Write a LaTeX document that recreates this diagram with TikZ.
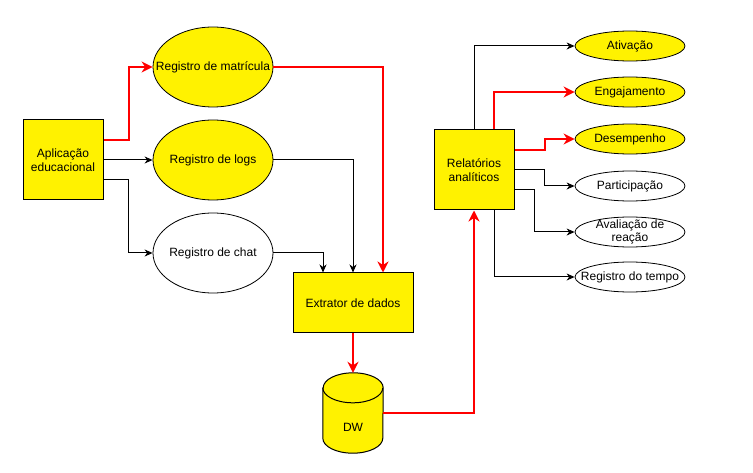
\documentclass[tikz,border=0pt]{standalone}
\usepackage{fontspec}
\setmainfont{Liberation Sans}
\usetikzlibrary{arrows.meta,shapes.geometric}

\begin{document}
\begin{tikzpicture}[x=1pt,y=-1pt,
  font=\fontsize{12}{13.5}\selectfont,
  caixa/.style={draw,fill=yellow,line width=1pt,minimum width=80pt,minimum height=80pt,align=center,inner sep=1pt},
  registro/.style={draw,ellipse,line width=0.8pt,minimum width=120pt,minimum height=80pt,inner xsep=-25pt,inner ysep=-8pt,align=center},
  metrica/.style={draw,ellipse,line width=0.8pt,minimum width=110pt,minimum height=30pt,inner xsep=-25pt,inner ysep=-8pt,align=center},
  amarelo/.style={fill=yellow},
  seta/.style={-{Stealth[length=8pt,width=7pt,inset=2.5pt]},line width=1pt},
  setav/.style={-{Stealth[length=11pt,width=11pt,inset=3.5pt]},red,line width=2pt}]
  \useasboundingbox (0,0) rectangle (753,473);

  % origem dos dados
  \node[caixa] (app) at (63,160) {Aplicação\\educacional};
  \node[registro,amarelo] (matricula) at (213,67) {Registro de matrícula};
  \node[registro,amarelo] (logs) at (213,160) {Registro de logs};
  \node[registro] (chat) at (213,253) {Registro de chat};

  \draw[setav] ([yshift=20pt]app.east) -- ++(25,0) |- (matricula.west);
  \draw[seta] (app.east) -- (logs.west);
  \draw[seta] ([yshift=-20pt]app.east) -- ++(25,0) |- (chat.west);

  % extrator e DW
  \node[caixa,minimum width=120pt,minimum height=60pt] (extrator) at (353,303) {Extrator de dados};
  \draw[seta] (chat.east) -| ([xshift=-30pt]extrator.north);
  \draw[seta] (logs.east) -| (extrator.north);
  \draw[setav] (matricula.east) -| ([xshift=30pt]extrator.north);

  \node[minimum width=60pt,minimum height=80pt,inner sep=0pt] (dw) at (353,413) {};
  \draw[fill=yellow,line width=1pt] ([yshift=-15pt]dw.north west) -- ([yshift=15pt]dw.south west)
    arc[start angle=180,end angle=360,x radius=30pt,y radius=15pt]
    -- ([yshift=-15pt]dw.north east)
    arc[start angle=0,end angle=180,x radius=30pt,y radius=15pt] -- cycle;
  \draw[line width=1pt] ([yshift=-15pt]dw.north west) arc[start angle=180,end angle=360,x radius=30pt,y radius=15pt];
  \node (dwrotulo) at ([yshift=-14pt]dw.center) {DW};
  \draw[setav] (extrator.south) -- (dw.north);

  % relatorios
  \node[caixa] (rel) at (474,170) {Relatórios\\analíticos};
  \draw[setav] (dw.east) -| (rel.south);

  \node[metrica,amarelo] (ativacao) at (630,46) {Ativação};
  \node[metrica,amarelo] (engajamento) at (630,92) {Engajamento};
  \node[metrica,amarelo] (desempenho) at (630,139) {Desempenho};
  \node[metrica] (participacao) at (630,186) {Participação};
  \node[metrica] (avaliacao) at (630,232) {Avaliação de\\reação};
  \node[metrica] (tempo) at (630,277) {Registro do tempo};

  \draw[seta] (rel.north) |- (ativacao.west);
  \draw[setav] ([xshift=20pt]rel.north) |- (engajamento.west);
  \draw[setav] ([yshift=20pt]rel.east) -- ++(30,0) |- (desempenho.west);
  \draw[seta] (rel.east) -- ++(30,0) |- (participacao.west);
  \draw[seta] ([yshift=-20pt]rel.east) -- ++(20,0) |- (avaliacao.west);
  \draw[seta] ([xshift=20pt]rel.south) |- (tempo.west);
\end{tikzpicture}
\end{document}
